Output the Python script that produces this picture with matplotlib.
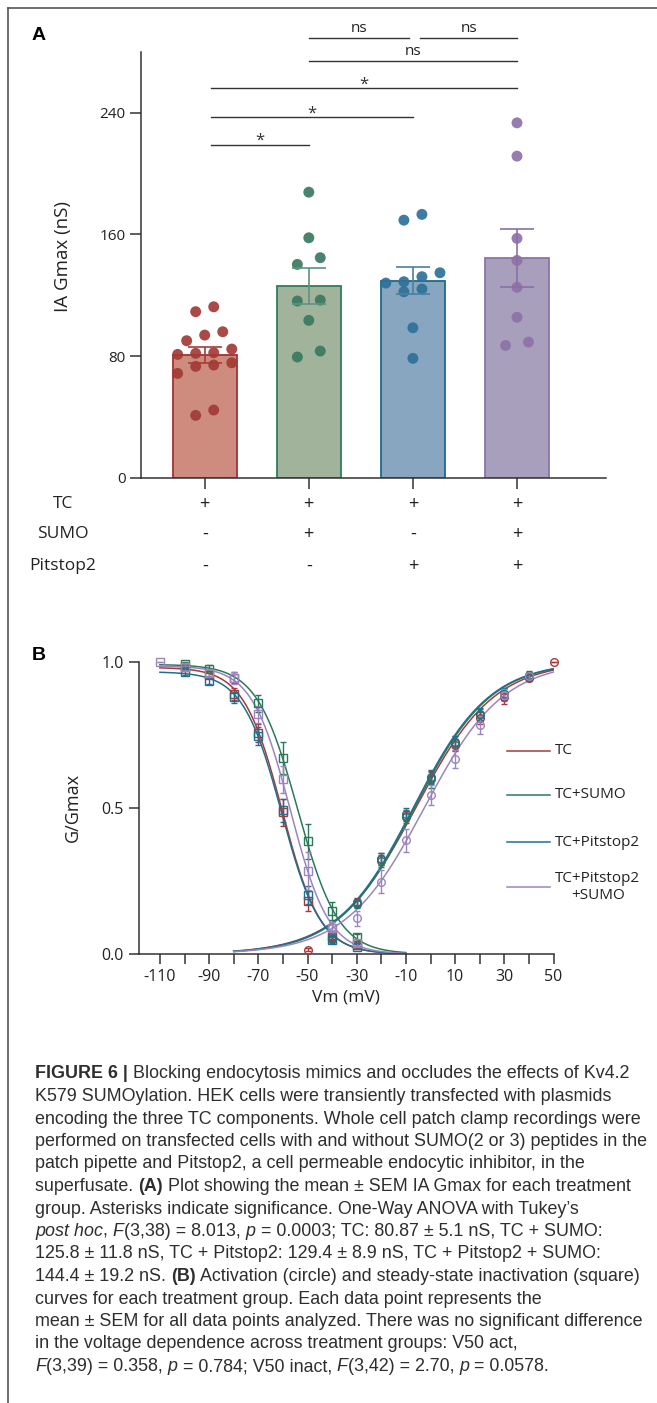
import numpy as np
import matplotlib
matplotlib.use("Agg")
import matplotlib.pyplot as plt
from matplotlib.lines import Line2D
from matplotlib import transforms

plt.rcParams['font.family'] = ['Open Sans', 'DejaVu Sans']

W, H = 657, 1403

# ---------------- panel A data ----------------
groups = ["TC", "TC+SUMO", "TC+Pitstop2", "TC+Pitstop2+SUMO"]
gmax_mean = [80.87, 125.8, 129.4, 144.4]
gmax_sem = [5.1, 11.8, 8.9, 19.2]
gmax_tc = [112.4, 109.2, 96.0, 93.8, 90.1, 84.6, 82.2, 81.8, 81.1,
           75.6, 74.1, 73.2, 68.6, 44.5, 41.0]
gmax_sumo = [187.8, 157.8, 144.7, 140.3, 116.8, 116.2, 103.5, 83.3, 79.4]
gmax_pit = [173.2, 169.4, 134.8, 132.2, 128.9, 128.0, 124.1, 122.3, 98.6, 78.5]
gmax_pit_sumo = [233.4, 211.5, 157.4, 142.9, 125.2, 105.5, 89.2, 87.0]
row_names = ["TC", "SUMO", "Pitstop2"]
row_signs = [["+", "+", "+", "+"],
             ["-", "+", "-", "+"],
             ["-", "-", "+", "+"]]
sig_pairs = [(0, 1), (0, 2), (0, 3), (1, 3), (1, 2), (2, 3)]
sig_labels = ["*", "*", "*", "ns", "ns", "ns"]
sig_heights = [219, 237, 256, 274, 289, 289]

# ---------------- panel B data ----------------
v_inact = [-110, -100, -90, -80, -70, -60, -50, -40, -30]
inact_tc = [np.nan, 0.98, 0.955, 0.89, 0.756, 0.484, 0.182, 0.061, 0.030]
inact_sumo = [np.nan, 0.99, 0.975, 0.945, 0.857, 0.669, 0.386, 0.147, 0.057]
inact_pit = [np.nan, 0.965, 0.933, 0.877, 0.746, 0.491, 0.202, 0.047, 0.025]
inact_pit_sumo = [1.0, 0.98, 0.96, 0.944, 0.819, 0.597, 0.284, 0.088, 0.036]
inact_tc_sem = [np.nan, 0.01, 0.01, 0.02, 0.03, 0.045, 0.035, 0.015, 0.01]
inact_sumo_sem = [np.nan, 0.01, 0.012, 0.02, 0.03, 0.055, 0.06, 0.03, 0.012]
inact_pit_sem = [np.nan, 0.01, 0.01, 0.02, 0.03, 0.04, 0.03, 0.01, 0.008]
inact_pit_sumo_sem = [0.0, 0.01, 0.01, 0.02, 0.03, 0.045, 0.065, 0.02, 0.01]

v_act = [-50, -40, -30, -20, -10, 0, 10, 20, 30, 40, 50]
act_tc = [0.015, 0.06, 0.179, 0.325, 0.473, 0.603, 0.715, 0.806, 0.88, 0.943, 1.0]
act_sumo = [np.nan, 0.055, 0.171, 0.318, 0.469, 0.597, 0.722, 0.817, 0.89, 0.953, np.nan]
act_pit = [np.nan, 0.05, 0.175, 0.325, 0.478, 0.605, 0.726, 0.82, 0.89, 0.948, np.nan]
act_pit_sumo = [np.nan, 0.093, 0.122, 0.247, 0.389, 0.544, 0.667, 0.783, 0.885, 0.95, np.nan]
act_tc_sem = [0.005, 0.01, 0.01, 0.02, 0.02, 0.02, 0.02, 0.02, 0.025, 0.01, 0.0]
act_sumo_sem = [np.nan, 0.01, 0.015, 0.02, 0.02, 0.03, 0.025, 0.02, 0.02, 0.015, np.nan]
act_pit_sem = [np.nan, 0.01, 0.015, 0.02, 0.02, 0.025, 0.02, 0.02, 0.02, 0.01, np.nan]
act_pit_sumo_sem = [np.nan, 0.015, 0.025, 0.04, 0.04, 0.035, 0.03, 0.03, 0.02, 0.01, np.nan]

# Boltzmann fit parameters
act_v50 = [-6.0, -6.5, -7.0, -2.5]
act_k = [16.0, 15.5, 15.5, 16.0]
inact_v50 = [-60.3, -54.0, -60.5, -57.0]
inact_k = [7.8, 8.3, 7.9, 7.8]
inact_top = [0.98, 0.99, 0.965, 0.985]
legend_labels = ["TC", "TC+SUMO", "TC+Pitstop2", "TC+Pitstop2\n+SUMO"]

# colours
bar_fill = ["#cd8c7e", "#a2b39c", "#89a6c1", "#a79fbb"]
bar_edge = ["#a63232", "#2f7d5c", "#1d6a8b", "#8c74aa"]
dot_col = ["#a33a36", "#3a7a60", "#2e7199", "#8e72a8"]
err_col = ["#a83a3a", "#5c9480", "#4a7fa1", "#8a6fa6"]
line_col = ["#a8393b", "#2a7a5a", "#216f8f", "#9a86bd"]

fig = plt.figure(figsize=(W / 100, H / 100), dpi=100)
px = transforms.Affine2D().scale(1 / W, -1 / H).translate(0, 1) + fig.transFigure


def swarm_offsets(vals, tol=7.5, max_w=0.52, max_step=0.22):
    vals = np.asarray(vals, dtype=float)
    order = np.argsort(-vals)
    rows = []
    for idx in order:
        if rows and vals[rows[-1][0]] - vals[idx] < tol:
            rows[-1].append(idx)
        else:
            rows.append([idx])
    widest = max(len(r) for r in rows)
    step = max_step if widest < 2 else min(max_step, max_w / (widest - 1))
    off = np.zeros(len(vals))
    for r in rows:
        n = len(r)
        for k, idx in enumerate(r[::-1]):
            off[idx] = (k - (n - 1) / 2) * step
    return off


# ---------------- panel A ----------------
axA = fig.add_axes([141 / W, 1 - 477.7 / H, (606 - 141) / W, (477.7 - 52) / H])
xs = np.arange(len(groups))
axA.bar(xs, gmax_mean, width=0.615, color=bar_fill, edgecolor=bar_edge,
        linewidth=1.3, zorder=1)
for i, vals in enumerate([gmax_tc, gmax_sumo, gmax_pit, gmax_pit_sumo]):
    off = swarm_offsets(vals)
    axA.scatter(xs[i] + off, vals, s=62, color=dot_col[i], alpha=0.92,
                edgecolors='none', zorder=2)
    axA.errorbar(xs[i], gmax_mean[i], yerr=gmax_sem[i], color=err_col[i],
                 capsize=12, elinewidth=1.2, capthick=1.2, zorder=3)

axA.set_xlim(-0.612, 3.855)
axA.set_ylim(0, 280)
axA.set_yticks([0, 80, 160, 240])
axA.set_xticks(xs)
axA.set_xticklabels([])
axA.tick_params(axis='both', direction='out', length=8, width=1.1,
                color='#333333', labelsize=11, labelcolor='#222222')
axA.tick_params(axis='y', pad=3)
for s in ['top', 'right']:
    axA.spines[s].set_visible(False)
for s in ['left', 'bottom']:
    axA.spines[s].set_linewidth(1.1)
    axA.spines[s].set_color('#333333')
axA.set_ylabel("IA Gmax (nS)", fontsize=13.5, color='#222222')
axA.yaxis.set_label_coords((63 - 141) / (606 - 141), 0.52)
axA.yaxis.label.set_va('center')

# significance brackets
for (i, j), lab, h in zip(sig_pairs, sig_labels, sig_heights):
    x0, x1 = xs[i], xs[j]
    if (i, j) == (1, 2):
        x1 -= 0.04
    if (i, j) == (2, 3):
        x0 += 0.07
    if i == 0:
        x0 += 0.06
    axA.plot([x0, x1], [h, h], color='#333333', lw=1.0, clip_on=False)
    if lab == "*":
        axA.text((x0 + x1) / 2, h + 2.5, "*", ha='center', va='center',
                 fontsize=12, color='#333333', clip_on=False)
    else:
        axA.text((x0 + x1) / 2, h + 1.5, lab, ha='center', va='bottom',
                 fontsize=11, color='#222222', clip_on=False)

# treatment table under the axis
row_y = [504, 534, 566]
signs_tr = transforms.blended_transform_factory(axA.transData, px)
for name, signs, yy in zip(row_names, row_signs, row_y):
    fig.text(63, yy, name, transform=px, ha='center', va='center',
             fontsize=12.5, color='#222222')
    for i, sg in enumerate(signs):
        axA.text(xs[i], yy, sg, transform=signs_tr, ha='center', va='center',
                 fontsize=13, color='#222222')

fig.text(32, 35, "A", transform=px, ha='left', va='center', fontsize=14,
         fontweight='bold', family=['Liberation Sans', 'DejaVu Sans'])

# ---------------- panel B ----------------
axB = fig.add_axes([139 / W, 1 - 954 / H, (553.5 - 139) / W, (954 - 661.5) / H])
v_fit_in = np.linspace(-110, -10, 200)
v_fit_act = np.linspace(-80, 50, 200)
inact_sets = [(inact_tc, inact_tc_sem), (inact_sumo, inact_sumo_sem),
              (inact_pit, inact_pit_sem), (inact_pit_sumo, inact_pit_sumo_sem)]
act_sets = [(act_tc, act_tc_sem), (act_sumo, act_sumo_sem),
            (act_pit, act_pit_sem), (act_pit_sumo, act_pit_sumo_sem)]
for i in range(4):
    c = line_col[i]
    g_in = inact_top[i] / (1 + np.exp((v_fit_in - inact_v50[i]) / inact_k[i]))
    g_act = 1 / (1 + np.exp((act_v50[i] - v_fit_act) / act_k[i]))
    axB.plot(v_fit_in, g_in, color=c, lw=1.1, zorder=2)
    axB.plot(v_fit_act, g_act, color=c, lw=1.1, zorder=2)
    y, e = inact_sets[i]
    axB.errorbar(v_inact, y, yerr=e, fmt='s', mfc='none', mec=c, ms=5.5,
                 mew=1.0, ecolor=c, elinewidth=1.0, capsize=2.5, capthick=1.0,
                 zorder=3, clip_on=False)
    y, e = act_sets[i]
    axB.errorbar(v_act, y, yerr=e, fmt='o', mfc='none', mec=c, ms=5.5,
                 mew=1.0, ecolor=c, elinewidth=1.0, capsize=2.5, capthick=1.0,
                 zorder=3, clip_on=False)

axB.set_xlim(-118.5, 50)
axB.set_ylim(0, 1)
axB.set_yticks([0, 0.5, 1.0])
axB.set_yticklabels(["0.0", "0.5", "1.0"])
xt = list(range(-110, 51, 10))
axB.set_xticks(xt)
axB.set_xticklabels([str(t) if (t + 110) % 20 == 0 else "" for t in xt])
axB.tick_params(axis='both', direction='out', length=7.5, width=1.1,
                color='#333333', labelsize=11.5, labelcolor='#222222')
for s in ['top', 'right']:
    axB.spines[s].set_visible(False)
for s in ['left', 'bottom']:
    axB.spines[s].set_linewidth(1.1)
    axB.spines[s].set_color('#333333')
axB.set_ylabel("G/Gmax", fontsize=13, color='#222222')
axB.yaxis.set_label_coords((73 - 139) / (553.5 - 139), 0.5)
axB.yaxis.label.set_va('center')
axB.set_xlabel("Vm (mV)", fontsize=12.5, color='#222222')
axB.xaxis.set_label_coords(0.5, -(997 - 954) / (954 - 661.5))
axB.xaxis.label.set_va('center')

leg_y = [751, 795, 842, 887]
for i, (lab, yy) in enumerate(zip(legend_labels, leg_y)):
    fig.add_artist(Line2D([507, 550], [yy, yy], transform=px, color=line_col[i], lw=1.1))
    fig.text(555, yy, lab, transform=px, ha='left', va='center', fontsize=11,
             color='#222222', multialignment='center', linespacing=1.15)

fig.text(32, 656, "B", transform=px, ha='left', va='center', fontsize=14,
         fontweight='bold', family=['Liberation Sans', 'DejaVu Sans'])

# ---------------- frame ----------------
fig.add_artist(Line2D([8, W], [8, 8], transform=px, color='#555555', lw=1.2))
fig.add_artist(Line2D([8, 8], [8, H], transform=px, color='#555555', lw=1.2))

# ---------------- caption ----------------
cap_lines = [
    [("FIGURE 6 | ", 'b'), ("Blocking endocytosis mimics and occludes the effects of Kv4.2", 'n')],
    [("K579 SUMOylation. HEK cells were transiently transfected with plasmids", 'n')],
    [("encoding the three TC components. Whole cell patch clamp recordings were", 'n')],
    [("performed on transfected cells with and without SUMO(2 or 3) peptides in the", 'n')],
    [("patch pipette and Pitstop2, a cell permeable endocytic inhibitor, in the", 'n')],
    [("superfusate. ", 'n'), ("(A)", 'b'), (" Plot showing the mean \u00b1 SEM IA Gmax for each treatment", 'n')],
    [("group. Asterisks indicate significance. One-Way ANOVA with Tukey\u2019s", 'n')],
    [("post hoc", 'i'), (", ", 'n'), ("F", 'i'), ("(3,38) = 8.013, ", 'n'), ("p", 'i'),
     (" = 0.0003; TC: 80.87 \u00b1 5.1 nS, TC + SUMO:", 'n')],
    [("125.8 \u00b1 11.8 nS, TC + Pitstop2: 129.4 \u00b1 8.9 nS, TC + Pitstop2 + SUMO:", 'n')],
    [("144.4 \u00b1 19.2 nS. ", 'n'), ("(B)", 'b'),
     (" Activation (circle) and steady-state inactivation (square)", 'n')],
    [("curves for each treatment group. Each data point represents the", 'n')],
    [("mean \u00b1 SEM for all data points analyzed. There was no significant difference", 'n')],
    [("in the voltage dependence across treatment groups: V50 act,", 'n')],
    [("F", 'i'), ("(3,39) = 0.358, ", 'n'), ("p", 'i'), (" = 0.784; V50 inact, ", 'n'),
     ("F", 'i'), ("(3,42) = 2.70, ", 'n'), ("p", 'i'), (" = 0.0578.", 'n')],
]
cap_font = ['Liberation Sans', 'DejaVu Sans']
cap_size = 12.9
renderer = fig.canvas.get_renderer()
y0, dy, x_start = 1074, 22.5, 35
for li, runs in enumerate(cap_lines):
    x = x_start
    yy = y0 + li * dy
    for txt, st in runs:
        t = fig.text(x, yy, txt, transform=px, ha='left', va='center',
                     fontsize=cap_size, color='#2e2e2e', family=cap_font,
                     fontweight='bold' if st == 'b' else 'normal',
                     fontstyle='italic' if st == 'i' else 'normal')
        bb = t.get_window_extent(renderer)
        x += bb.width

fig.savefig("out.png", dpi=100)
